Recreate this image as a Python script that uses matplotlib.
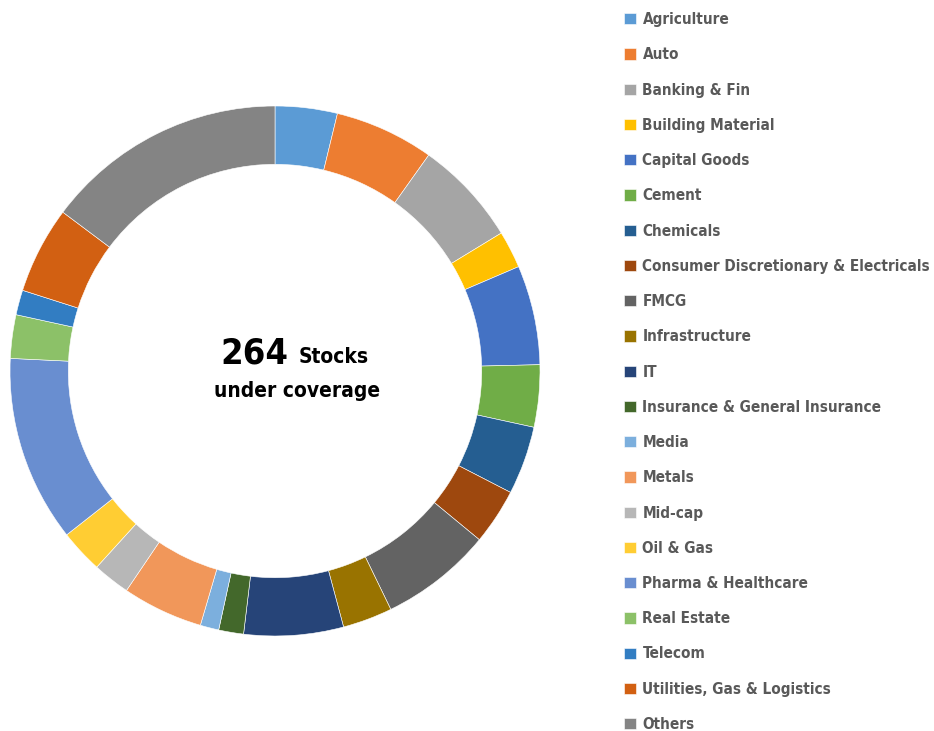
import matplotlib
matplotlib.use("Agg")
import matplotlib.pyplot as plt

sectors = ["Agriculture", "Auto", "Banking & Fin", "Building Material", "Capital Goods",
           "Cement", "Chemicals", "Consumer Discretionary & Electricals", "FMCG",
           "Infrastructure", "IT", "Insurance & General Insurance", "Media", "Metals",
           "Mid-cap", "Oil & Gas", "Pharma & Healthcare", "Real Estate", "Telecom",
           "Utilities, Gas & Logistics", "Others"]
stocks = [10, 16, 17, 6, 16, 10, 11, 9, 18, 8, 16, 4, 3, 13, 6, 7, 30, 7, 4, 14, 39]
colors = ["#5B9BD5", "#ED7D31", "#A5A5A5", "#FFC000", "#4472C4", "#70AD47", "#255E91",
          "#9E480E", "#636363", "#997300", "#264478", "#43682B", "#7CAFDD", "#F1975A",
          "#B7B7B7", "#FFCD33", "#698ED0", "#8CC168", "#327DC2", "#D26012", "#848484"]

W, H = 934, 731
fig = plt.figure(figsize=(W / 100, H / 100), dpi=100)
cx, cy, r = 275, 371, 265
ax = fig.add_axes([(cx - r) / W, (H - cy - r) / H, 2 * r / W, 2 * r / H])

wedges, _ = ax.pie(stocks, colors=colors, startangle=90, counterclock=False, radius=1,
                   wedgeprops=dict(width=0.22, edgecolor="white", linewidth=0.4))
ax.set_xlim(-1, 1)
ax.set_ylim(-1, 1)
ax.axis("off")

font = dict(family="DejaVu Sans", fontweight="bold", fontstretch="condensed")
ax.text(0.05, 0.03, str(sum(stocks)), ha="right", va="baseline", fontsize=26, color="black", **font)
ax.text(0.09, 0.03, "Stocks", ha="left", va="baseline", fontsize=15, color="black", **font)
ax.text(0.085, -0.075, "under coverage", ha="center", va="center", fontsize=15, color="black", **font)

leg = fig.legend(wedges, sectors, loc="upper left", bbox_to_anchor=(618 / W, 1 - 6 / H),
                 frameon=False, handlelength=0.75, handleheight=0.75, handletextpad=0.45,
                 labelspacing=1.325, borderaxespad=0,
                 prop=dict(family="DejaVu Sans", weight="bold", stretch="condensed", size=11))
for t in leg.get_texts():
    t.set_color("#595959")

fig.savefig("out.png", dpi=100)
